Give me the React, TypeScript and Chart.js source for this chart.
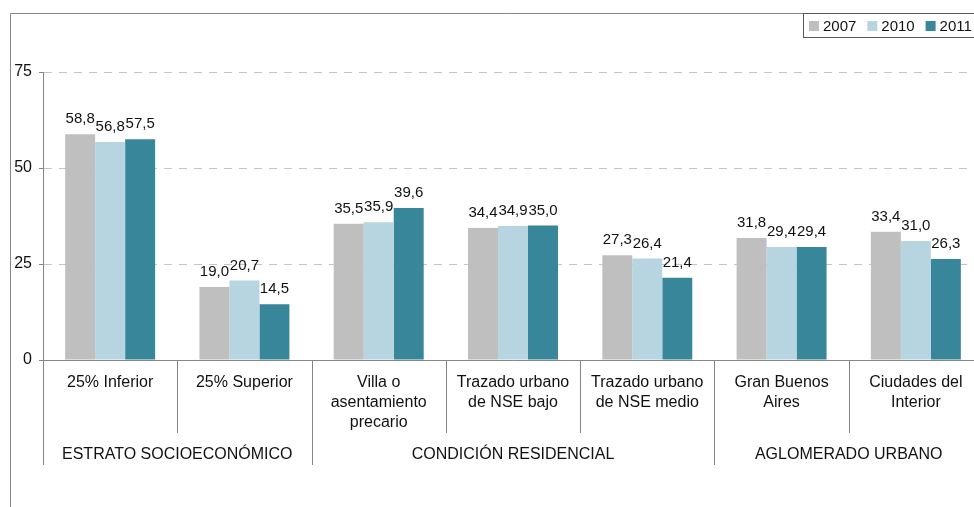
import React, { useEffect, useRef } from 'react';
import { Chart, registerables } from 'chart.js';

Chart.register(...registerables);

const categories: (string | string[])[] = [
  '25% Inferior',
  '25% Superior',
  ['Villa o', 'asentamiento', 'precario'],
  ['Trazado urbano', 'de NSE bajo'],
  ['Trazado urbano', 'de NSE medio'],
  ['Gran Buenos', 'Aires'],
  ['Ciudades del', 'Interior'],
];
const groupLabels = ['ESTRATO SOCIOECONÓMICO', 'CONDICIÓN RESIDENCIAL', 'AGLOMERADO URBANO'];
const groupSizes = [2, 3, 2];
const seriesNames = ['2007', '2010', '2011'];
const values2007 = [58.8, 19.0, 35.5, 34.4, 27.3, 31.8, 33.4];
const values2010 = [56.8, 20.7, 35.9, 34.9, 26.4, 29.4, 31.0];
const values2011 = [57.5, 14.5, 39.6, 35.0, 21.4, 29.4, 26.3];
const yTicks = [0, 25, 50, 75];
const seriesColors = ['#BFBFBF', '#B7D5E0', '#388699'];

const FONT = '"Liberation Sans", Arial, sans-serif';
const AXIS = '#868686';
const TEXT = '#111111';

const decorPlugin = {
  id: 'decor',
  beforeDraw(chart: any) {
    const ctx = chart.ctx;
    ctx.save();
    ctx.strokeStyle = AXIS;
    ctx.lineWidth = 1;
    ctx.beginPath();
    ctx.moveTo(2.5, chart.height + 5);
    ctx.lineTo(2.5, 5.5);
    ctx.lineTo(chart.width + 5, 5.5);
    ctx.stroke();
    ctx.restore();
  },
  afterDatasetsDraw(chart: any) {
    const ctx = chart.ctx;
    ctx.save();
    ctx.font = `15px ${FONT}`;
    ctx.fillStyle = TEXT;
    ctx.textAlign = 'center';
    ctx.textBaseline = 'alphabetic';
    chart.data.datasets.forEach((ds: any, di: number) => {
      const meta = chart.getDatasetMeta(di);
      meta.data.forEach((bar: any, i: number) => {
        const v = ds.data[i] as number;
        ctx.fillText(v.toFixed(1).replace('.', ','), bar.x, bar.y - 11);
      });
    });
    ctx.restore();
  },
  afterDraw(chart: any) {
    const ctx = chart.ctx;
    const xs = chart.scales.x;
    const n = categories.length;
    const cw = (xs.right - xs.left) / n;
    const axisY = xs.top;
    ctx.save();
    ctx.strokeStyle = AXIS;
    ctx.lineWidth = 1;
    const bounds = new Set<number>([0]);
    let acc = 0;
    groupSizes.forEach((s) => {
      acc += s;
      bounds.add(acc);
    });
    for (let b = 0; b <= n; b++) {
      const px = Math.round(xs.left + b * cw) + 0.5;
      const len = bounds.has(b) ? 105 : 73;
      ctx.beginPath();
      ctx.moveTo(px, axisY);
      ctx.lineTo(px, axisY + len);
      ctx.stroke();
    }
    // group labels
    ctx.font = `16px ${FONT}`;
    ctx.fillStyle = TEXT;
    ctx.textAlign = 'center';
    ctx.textBaseline = 'middle';
    let st = 0;
    groupSizes.forEach((s, gi) => {
      const cx = xs.left + (st + s / 2) * cw;
      ctx.fillText(groupLabels[gi], cx, axisY + 95);
      st += s;
    });
    // legend
    const lx = 795.5;
    const ly = 5.5;
    ctx.fillStyle = '#ffffff';
    ctx.fillRect(lx, ly, 200, 24);
    ctx.strokeStyle = '#595959';
    ctx.strokeRect(lx, ly, 200, 24);
    ctx.font = `15px ${FONT}`;
    ctx.textAlign = 'left';
    ctx.textBaseline = 'middle';
    chart.data.datasets.forEach((ds: any, i: number) => {
      const sx = 801 + i * 58.3;
      ctx.fillStyle = ds.backgroundColor;
      ctx.fillRect(sx, 13, 10, 10);
      ctx.fillStyle = TEXT;
      ctx.fillText(ds.label, sx + 14, 18.5);
    });
    ctx.restore();
  },
};

export default function App() {
  const canvasRef = useRef<HTMLCanvasElement | null>(null);

  useEffect(() => {
    if (!canvasRef.current) return;
    const seriesValues = [values2007, values2010, values2011];
    const chart = new Chart(canvasRef.current, {
      type: 'bar',
      data: {
        labels: categories,
        datasets: seriesNames.map((name, i) => ({
          label: name,
          data: seriesValues[i],
          backgroundColor: seriesColors[i],
          borderWidth: 0,
          categoryPercentage: 0.67,
          barPercentage: 1,
        })),
      },
      options: {
        responsive: false,
        animation: false,
        devicePixelRatio: 1,
        layout: { padding: { top: 64, right: 25, bottom: 0, left: 0 } },
        plugins: {
          legend: { display: false },
          tooltip: { enabled: false },
        },
        scales: {
          x: {
            grid: { display: false, drawTicks: false },
            border: { display: true, color: AXIS, width: 1 },
            ticks: {
              color: TEXT,
              font: { family: FONT, size: 16, lineHeight: 1.25 },
              padding: 13,
              maxRotation: 0,
              minRotation: 0,
              autoSkip: false,
            },
            afterFit: (s: any) => {
              s.height = 147;
            },
          },
          y: {
            min: 0,
            max: 75,
            afterBuildTicks: (s: any) => {
              s.ticks = yTicks.map((v) => ({ value: v }));
            },
            grid: {
              color: (c: any) => (c.tick && c.tick.value === 0 ? 'rgba(0,0,0,0)' : '#C4C4C4'),
              tickColor: AXIS,
              tickLength: 4,
              drawTicks: true,
              lineWidth: 1,
            },
            border: { display: true, color: AXIS, width: 1, dash: [8, 7] },
            ticks: {
              color: TEXT,
              font: { family: FONT, size: 16 },
              padding: 7,
            },
            afterFit: (s: any) => {
              s.width = 35;
            },
          },
        },
      } as any,
      plugins: [decorPlugin as any],
    });
    return () => chart.destroy();
  }, []);

  return (
    <div
      style={{
        position: 'fixed',
        left: 8,
        top: 8,
        width: 966,
        minWidth: 966,
        maxWidth: 'none',
        height: 499,
        overflow: 'hidden',
      }}
    >
      <canvas
        ref={canvasRef}
        width={1000}
        height={499}
        style={{ display: 'block', width: 1000, height: 499, maxWidth: 'none' }}
      />
    </div>
  );
}
